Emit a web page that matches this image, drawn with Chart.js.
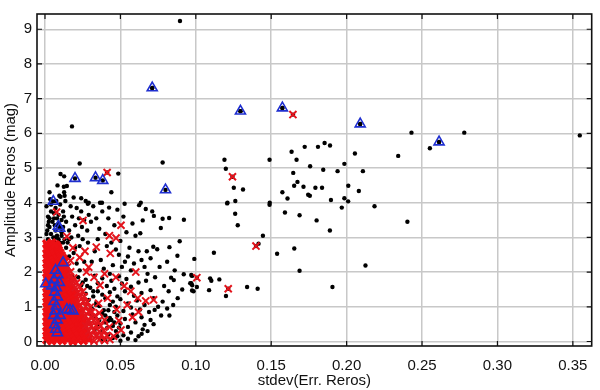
<!DOCTYPE html>
<html>
<head>
<meta charset="UTF-8">
<title>Amplitude vs stdev</title>
<script src="https://cdn.jsdelivr.net/npm/chart.js"></script>
<style>
  body { margin: 0; background: #fff; }
  #wrap { width: 600px; height: 390px; }
</style>
</head>
<body>
<div id="wrap"><canvas id="c" width="600" height="390"></canvas></div>
<script>
// tick labels
const xTickVals = [0, 0.05, 0.10, 0.15, 0.20, 0.25, 0.30, 0.35];
const yTickVals = [0, 1, 2, 3, 4, 5, 6, 7, 8, 9];

// all objects (black dots) - [stdev(Err. Reros), Amplitude Reros]
const blackPts = [
  [0.0895,9.24],[0.0711,7.31],[0.0179,6.20],[0.1296,6.64],[0.1574,6.73],[0.1644,6.54],
  [0.209,6.27],[0.243,6.02],[0.278,6.02],[0.3546,5.94],[0.2613,5.75],[0.2552,5.57],[0.2342,5.35],
  [0.2055,5.42],[0.2108,4.91],[0.1985,5.12],[0.194,4.91],[0.1845,4.95],[0.1758,5.05],[0.1722,5.61],
  [0.181,5.61],[0.1854,5.72],[0.189,5.65],[0.1635,5.47],[0.1668,5.24],[0.1489,5.24],[0.1646,4.86],
  [0.1652,4.49],[0.1574,4.30],[0.1608,4.12],[0.1714,4.46],[0.1793,4.43],[0.1837,4.43],[0.2011,4.49],
  [0.2081,4.34],[0.1756,4.20],[0.1745,4.23],[0.1896,4.08],[0.1985,4.13],[0.201,4.04],[0.1968,3.86],
  [0.2185,3.90],[0.1674,4.60],[0.149,4.0],[0.1489,3.94],
  [0.119,5.24],[0.1199,4.98],[0.1243,4.75],[0.1252,4.43],[0.1313,4.38],[0.1262,4.05],[0.121,4.0],
  [0.1208,3.98],[0.1261,3.68],[0.1278,3.35],[0.1445,3.05],[0.1416,2.82],[0.1399,2.75],
  [0.2403,3.45],[0.1889,3.20],[0.1801,3.49],[0.1688,3.64],[0.1591,3.72],
  [0.1539,2.53],[0.1653,2.68],[0.1688,2.04],[0.1906,1.57],[0.2125,2.19],[0.112,2.56],[0.099,2.38],
  [0.0975,1.89],[0.0963,1.68],[0.0975,1.47],[0.0985,1.45],[0.1007,1.57],[0.1007,1.84],[0.1095,1.82],
  [0.1103,1.75],[0.1156,1.79],[0.1088,1.48],[0.1215,1.52],[0.12,1.31],[0.134,1.57],[0.141,1.52],
  [0.078,5.16],[0.023,5.13],[0.0103,4.83],[0.0127,4.76],[0.0412,4.87],[0.0486,4.84],
  [0.0083,4.50],[0.0145,4.48],[0.0125,4.46],[0.044,4.30],[0.0127,4.30],[0.0103,4.17],[0.024,4.13],
  [0.029,4.0],[0.0365,4.0],[0.0378,4.0],[0.0528,3.97],[0.0284,3.97],[0.0624,3.93],[0.0668,3.82],
  [0.0711,3.75],[0.0425,3.86],[0.078,3.54],[0.0823,3.56],[0.0921,3.51],[0.0722,3.62],[0.0635,4.0],
  [0.0648,3.49],[0.0632,3.12],[0.0768,3.27],[0.0893,2.89],[0.0825,2.72],[0.0878,2.47],[0.0718,2.73],
  [0.0744,2.66],[0.0727,0.91],[0.0825,0.75],[0.0648,0.35],[0.0641,0.22],[0.0836,1.84],[0.0854,1.77],
  [0.092,1.94],[0.097,1.92],[0.097,1.68],[0.0976,1.62],
  [0.002,2.95],[0.004,3.1],[0.006,2.9],[0.008,3.05],[0.010,2.85],[0.003,3.3],[0.005,3.45],[0.007,3.2],
  [0.009,3.4],[0.011,3.15],[0.002,3.6],[0.004,3.75],[0.006,3.55],[0.009,3.65],[0.011,3.5],[0.001,3.9],
  [0.0035,4.1],[0.007,3.85],[0.010,3.95],[0.012,3.75],[0.0015,2.75],[0.0045,2.65],[0.0075,2.72],
  [0.0105,2.62],[0.012,3.3],[0.013,2.95],[0.0025,3.45],[0.0055,3.0],[0.0085,2.8],[0.0015,3.2],
  [0.0065,3.35],[0.0125,3.6],[0.0095,4.2],[0.0135,4.05],[0.003,4.3],[0.0075,4.05],
  [0.003,2.88],[0.005,2.78],[0.007,3.0],[0.009,2.95],[0.011,3.05],[0.001,3.1],[0.003,3.55],[0.008,3.55],
  [0.010,3.3],[0.012,2.85],[0.014,2.7],[0.016,2.95],[0.006,3.7],[0.004,3.95],[0.002,3.35],
  [0.014,3.45],[0.016,3.2],[0.018,3.6],[0.020,3.35],[0.022,3.05],[0.024,3.75],[0.026,3.5],[0.028,3.2],
  [0.015,2.85],[0.017,3.9],[0.019,2.55],[0.021,3.85],[0.023,2.75],[0.025,2.95],[0.027,4.05],[0.029,3.65],
  [0.016,2.45],[0.02,2.7],[0.0175,3.0],[0.0245,3.3],[0.0285,2.85],[0.0305,3.45],[0.013,4.2],[0.019,4.15],
  [0.0225,3.55],
  [0.032,3.9],[0.034,3.55],[0.036,3.25],[0.038,3.75],[0.040,3.1],[0.042,3.55],[0.044,2.85],[0.046,3.35],
  [0.048,3.8],[0.050,2.9],[0.052,3.6],[0.054,3.15],[0.056,2.7],[0.058,3.4],[0.033,2.6],[0.037,2.35],
  [0.041,2.75],[0.045,2.2],[0.049,2.5],[0.053,2.3],[0.057,2.05],[0.035,2.95],[0.039,2.1],[0.043,1.95],
  [0.047,2.65],[0.051,2.15],[0.055,2.45],[0.059,2.25],[0.031,2.3],[0.060,3.05],[0.062,2.6],[0.064,2.35],
  [0.066,2.15],[0.068,1.95],[0.070,2.4],[0.0675,2.6],
  [0.022,1.85],[0.027,1.78],[0.033,1.9],[0.038,1.82],[0.044,1.75],[0.049,1.88],[0.054,1.8],
  [0.024,1.62],[0.03,1.55],[0.035,1.68],[0.041,1.6],[0.046,1.52],[0.051,1.67],[0.057,1.58],[0.062,1.7],
  [0.027,1.38],[0.032,1.45],[0.038,1.35],[0.043,1.42],[0.048,1.3],[0.053,1.45],[0.059,1.32],[0.064,1.4],[0.07,1.48],
  [0.029,1.2],[0.034,1.12],[0.04,1.25],[0.045,1.15],[0.05,1.22],[0.055,1.1],[0.061,1.18],[0.066,1.05],[0.072,1.25],[0.078,1.15],
  [0.031,0.95],[0.036,1.02],[0.042,0.9],[0.047,1.0],[0.052,0.88],[0.057,0.98],[0.063,0.92],[0.069,0.85],[0.075,1.0],[0.081,0.95],
  [0.033,0.72],[0.038,0.8],[0.043,0.68],[0.048,0.75],[0.053,0.65],[0.058,0.78],[0.064,0.7],[0.07,0.62],[0.077,0.75],
  [0.035,0.5],[0.04,0.55],[0.045,0.45],[0.05,0.52],[0.055,0.42],[0.06,0.55],[0.066,0.48],[0.072,0.5],
  [0.037,0.28],[0.042,0.2],[0.047,0.3],[0.052,0.18],[0.057,0.26],[0.062,0.15],[0.068,0.3],
  [0.04,0.05],[0.045,0.1],[0.05,0.02],[0.055,0.08],[0.06,0.04],
  [0.03,0.1],[0.033,0.35],[0.036,0.62],[0.039,0.9],[0.041,0.38],[0.044,0.62],[0.046,0.85],[0.048,0.15],
  [0.031,0.78],[0.034,1.05],[0.037,0.12],[0.04,0.75],[0.043,1.05],[0.046,0.55],[0.049,0.4],[0.029,0.55],
  [0.032,1.3],[0.035,1.45],[0.025,1.7],[0.028,1.6],[0.023,2.05],[0.026,2.3],[0.021,2.25],[0.038,0.02],
  [0.042,0.6],
  [0.085,1.05],[0.088,1.25],[0.082,1.45],[0.079,1.6],[0.091,1.5],[0.086,2.05],[0.076,2.15],[0.073,1.85],
  [0.081,2.3],[0.067,1.75],[0.015,2.1],[0.018,1.9],[0.012,2.4],[0.02,1.5]
];

// flagged objects (red crosses), scattered ones
const redPts = [
  [0.0412,4.87],[0.1644,6.54],[0.1243,4.75],[0.1399,2.75],[0.1007,1.84],[0.1215,1.52],
  [0.0077,3.73],[0.0252,3.49],[0.0504,3.35],[0.0427,3.05],[0.0471,2.98],[0.034,2.72],[0.0433,2.54],
  [0.023,2.42],[0.0169,2.33],[0.029,2.14],[0.0602,2.0],[0.047,1.85],[0.0569,1.45],[0.0668,1.17],
  [0.058,0.70],[0.0504,0.33],[0.0427,0.42],[0.0145,3.03],[0.0395,1.95],[0.0365,1.62],[0.0525,1.6],
  [0.0615,1.25],[0.072,1.2],[0.0545,1.05],[0.0475,0.92],[0.062,0.85],[0.0395,0.62],[0.0345,0.18],
  [0.0455,0.15],[0.0325,1.85],[0.0275,2.0],[0.0415,1.25],[0.0265,2.6],[0.0185,2.7],[0.0355,1.1],
  [0.049,0.6],[0.0295,0.5],[0.036,0.82],
  [0.0325,0.01],[0.036,0.05],[0.0395,0.03],[0.043,0.06],[0.0305,0.2],[0.034,0.15],[0.0375,0.19],[0.041,0.17],
  [0.029,0.3],[0.0325,0.33],[0.036,0.29],[0.039,0.32],[0.027,0.45],[0.0305,0.44],[0.034,0.47],[0.037,0.45],
  [0.029,0.59],[0.0325,0.61],[0.035,0.58],[0.027,0.73],[0.0305,0.71],[0.033,0.74],
  [0.0255,0.88],[0.029,0.87],[0.031,0.85],[0.0235,1.03],[0.027,1.01],[0.030,0.99],
  [0.022,1.13],[0.0255,1.16],[0.028,1.14],[0.0235,1.31],[0.026,1.29],[0.022,1.41],[0.025,1.44],
  [0.020,1.55],[0.023,1.59],[0.0185,1.73],[0.021,1.69],[0.0165,1.86],[0.019,1.83],[0.017,2.01],[0.015,2.15]
];

// flagged objects (red crosses), dense core near the origin
const redCorePts = [
  [0.001,0.04],[0.0045,0.01],[0.008,0.05],[0.0115,0.02],[0.015,0.06],[0.0185,0.0],[0.022,0.04],[0.0255,0.02],[0.029,0.07],
  [0.003,0.11],[0.0065,0.09],[0.010,0.12],[0.0135,0.1],[0.017,0.11],[0.0205,0.09],[0.024,0.12],[0.0275,0.1],
  [0.0025,0.18],[0.006,0.15],[0.0095,0.19],[0.013,0.16],[0.0165,0.2],[0.020,0.14],[0.0235,0.18],[0.027,0.16],
  [0.0015,0.25],[0.005,0.23],[0.0085,0.26],[0.012,0.24],[0.0155,0.25],[0.019,0.23],[0.0225,0.26],[0.026,0.24],
  [0.001,0.3],[0.0045,0.33],[0.008,0.29],[0.0115,0.32],[0.015,0.3],[0.0185,0.34],[0.022,0.29],[0.0255,0.32],
  [0.003,0.39],[0.0065,0.37],[0.010,0.4],[0.0135,0.38],[0.017,0.39],[0.0205,0.37],[0.024,0.4],
  [0.0025,0.46],[0.006,0.43],[0.0095,0.47],[0.013,0.44],[0.0165,0.46],[0.020,0.43],[0.0235,0.47],
  [0.0015,0.53],[0.005,0.51],[0.0085,0.54],[0.012,0.52],[0.0155,0.53],[0.019,0.51],[0.0225,0.54],[0.025,0.52],
  [0.001,0.58],[0.0045,0.61],[0.008,0.57],[0.0115,0.6],[0.015,0.58],[0.0185,0.61],[0.022,0.57],[0.0255,0.6],
  [0.003,0.67],[0.0065,0.65],[0.010,0.68],[0.0135,0.66],[0.017,0.67],[0.0205,0.65],[0.024,0.68],
  [0.0025,0.74],[0.006,0.71],[0.0095,0.75],[0.013,0.72],[0.0165,0.74],[0.020,0.71],[0.0235,0.75],
  [0.0015,0.81],[0.005,0.79],[0.0085,0.82],[0.012,0.8],[0.0155,0.81],[0.019,0.79],[0.0225,0.82],
  [0.001,0.86],[0.0045,0.89],[0.008,0.85],[0.0115,0.88],[0.015,0.86],[0.0185,0.89],[0.022,0.85],
  [0.003,0.95],[0.0065,0.93],[0.010,0.96],[0.0135,0.94],[0.017,0.95],[0.0205,0.93],
  [0.0025,1.02],[0.006,0.99],[0.0095,1.03],[0.013,1.0],[0.0165,1.02],[0.020,0.99],
  [0.0015,1.09],[0.005,1.07],[0.0085,1.1],[0.012,1.08],[0.0155,1.09],[0.019,1.07],
  [0.001,1.14],[0.0045,1.17],[0.008,1.13],[0.0115,1.16],[0.015,1.14],[0.0185,1.17],
  [0.003,1.23],[0.0065,1.21],[0.010,1.24],[0.0135,1.22],[0.017,1.23],[0.0195,1.21],
  [0.0025,1.3],[0.006,1.27],[0.0095,1.31],[0.013,1.28],[0.0165,1.3],[0.020,1.27],
  [0.0015,1.37],[0.005,1.35],[0.0085,1.38],[0.012,1.36],[0.0155,1.37],[0.019,1.35],
  [0.001,1.42],[0.0045,1.45],[0.008,1.41],[0.0115,1.44],[0.015,1.42],[0.0185,1.45],
  [0.003,1.51],[0.0065,1.49],[0.010,1.52],[0.0135,1.5],[0.017,1.51],
  [0.0025,1.58],[0.006,1.55],[0.0095,1.59],[0.013,1.56],[0.0165,1.58],
  [0.0015,1.65],[0.005,1.63],[0.0085,1.66],[0.012,1.64],[0.0155,1.65],
  [0.001,1.7],[0.0045,1.73],[0.008,1.69],[0.0115,1.72],[0.015,1.7],
  [0.003,1.79],[0.0065,1.77],[0.010,1.8],[0.0135,1.78],
  [0.0025,1.86],[0.006,1.83],[0.0095,1.87],[0.013,1.84],
  [0.0015,1.93],[0.005,1.91],[0.0085,1.94],[0.012,1.92],[0.0145,1.93],
  [0.001,1.98],[0.0045,2.01],[0.008,1.97],[0.0115,2.0],[0.015,1.98],
  [0.003,2.07],[0.0065,2.05],[0.010,2.08],[0.0135,2.06],
  [0.0025,2.14],[0.006,2.11],[0.0095,2.15],[0.013,2.12],
  [0.0015,2.21],[0.005,2.19],[0.0085,2.22],[0.012,2.2],
  [0.001,2.26],[0.0045,2.29],[0.008,2.25],[0.0115,2.28],[0.013,2.3],
  [0.003,2.35],[0.0065,2.33],[0.010,2.36],[0.0125,2.34],
  [0.0025,2.42],[0.006,2.39],[0.0095,2.43],[0.012,2.4],
  [0.0015,2.49],[0.005,2.47],[0.0085,2.5],[0.011,2.48],
  [0.001,2.54],[0.0045,2.57],[0.008,2.53],[0.010,2.56],
  [0.003,2.63],[0.0065,2.61],[0.009,2.64],
  [0.0025,2.7],[0.006,2.67],[0.0085,2.71],
  [0.0015,2.77],[0.005,2.75],[0.0075,2.78],
  [0.001,2.82],[0.0045,2.85],[0.0065,2.8]
];

// flagged objects (blue triangles)
const bluePts = [
  [0.0711,7.31],[0.1296,6.64],[0.1574,6.73],[0.209,6.27],[0.2613,5.75],[0.0199,4.70],[0.0335,4.72],
  [0.0383,4.64],[0.0799,4.37],[0.0055,4.04],[0.0088,3.32],[0.0098,3.26],[0.012,2.27],[0.0005,1.66],
  [0.007,2.05],[0.0085,1.92],[0.006,1.78],[0.0075,1.55],[0.0065,1.42],[0.0082,1.28],[0.006,1.15],
  [0.0075,1.02],[0.0068,0.88],[0.0058,0.75],[0.008,0.62],[0.0065,0.48],[0.0072,0.35],[0.0082,0.25],
  [0.0145,0.92],[0.0165,0.9],[0.0185,0.88],[0.0045,1.6],[0.0095,1.7],[0.01,0.75]
];

const toXY = p => ({x: p[0], y: p[1]});

const framePlugin = {
  id: 'frame',
  afterDraw(chart) {
    const {ctx, chartArea: a, scales: {x, y}} = chart;
    ctx.save();
    ctx.strokeStyle = '#111';
    ctx.lineWidth = 1.2;
    ctx.beginPath();
    xTickVals.forEach(v => {
      const px = x.getPixelForValue(v);
      ctx.moveTo(px, a.bottom); ctx.lineTo(px, a.bottom - 5);
      ctx.moveTo(px, a.top); ctx.lineTo(px, a.top + 5);
    });
    yTickVals.forEach(v => {
      const py = y.getPixelForValue(v);
      ctx.moveTo(a.left, py); ctx.lineTo(a.left + 5, py);
      ctx.moveTo(a.right, py); ctx.lineTo(a.right - 5, py);
    });
    ctx.stroke();
    ctx.lineWidth = 1.6;
    ctx.strokeRect(a.left, a.top, a.right - a.left, a.bottom - a.top);
    ctx.restore();
  }
};

const font = {family: '"Liberation Sans", Arial, Helvetica, sans-serif', size: 15};

new Chart(document.getElementById('c'), {
  type: 'scatter',
  data: {
    datasets: [
      {
        label: 'blue',
        data: bluePts.map(toXY),
        pointStyle: 'triangle',
        pointRadius: 5.8,
        borderColor: '#1f2fd0',
        backgroundColor: 'rgba(0,0,0,0)',
        borderWidth: 1.6,
        order: 0
      },
      {
        label: 'red',
        data: redPts.map(toXY),
        pointStyle: 'crossRot',
        pointRadius: 5,
        borderColor: '#e3141c',
        borderWidth: 2,
        order: 1
      },
      {
        label: 'red core',
        data: redCorePts.map(toXY),
        pointStyle: 'crossRot',
        pointRadius: 5,
        borderColor: '#ec0f14',
        borderWidth: 3.3,
        order: 2
      },
      {
        label: 'all',
        data: blackPts.concat(bluePts).map(toXY),
        pointRadius: 2.2,
        backgroundColor: '#000',
        borderWidth: 0,
        order: 3
      }
    ]
  },
  options: {
    responsive: false,
    animation: false,
    events: [],
    layout: {padding: {top: 4, right: 3, left: 0, bottom: 0}},
    plugins: {legend: {display: false}, tooltip: {enabled: false}},
    scales: {
      x: {
        type: 'linear',
        min: -0.0053,
        max: 0.3625,
        afterBuildTicks: s => { s.ticks = xTickVals.map(v => ({value: v})); },
        afterFit: s => { s.height = 44; },
        grid: {color: '#c8c8c8', lineWidth: 1.5, drawTicks: false},
        border: {display: false},
        ticks: {font, color: '#111', padding: 11, maxRotation: 0, autoSkip: false,
                callback: v => v.toFixed(2)},
        title: {display: true, text: 'stdev(Err. Reros)', font, color: '#111', padding: {top: 0, bottom: 0}}
      },
      y: {
        type: 'linear',
        min: -0.13,
        max: 9.44,
        afterBuildTicks: s => { s.ticks = yTickVals.map(v => ({value: v})); },
        afterFit: s => { s.width = 37; },
        grid: {color: '#c8c8c8', lineWidth: 1.5, drawTicks: false},
        border: {display: false},
        ticks: {font, color: '#111', padding: 5, autoSkip: false},
        title: {display: true, text: 'Amplitude Reros (mag)', font, color: '#111', padding: {top: 2, bottom: 0}}
      }
    }
  },
  plugins: [framePlugin]
});
</script>
</body>
</html>
